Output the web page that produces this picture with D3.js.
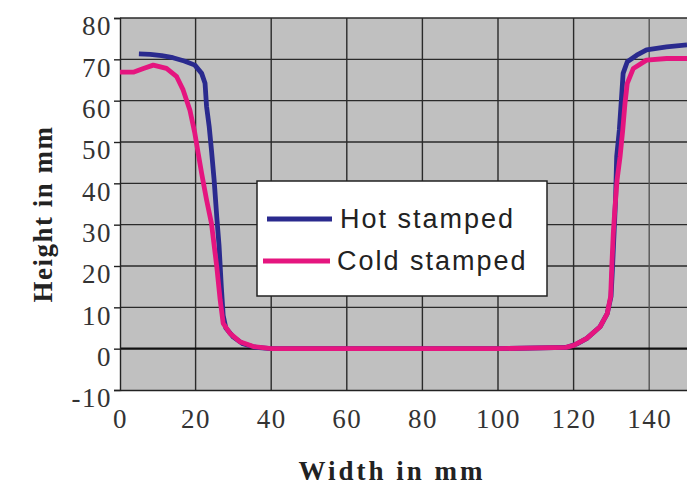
<!DOCTYPE html>
<html>
<head>
<meta charset="utf-8">
<script src="https://cdn.jsdelivr.net/npm/d3@7"></script>
<style>
  html, body { margin: 0; padding: 0; background: #fff; }
  svg { display: block; }
</style>
</head>
<body>
<svg id="chart" width="687" height="487"></svg>
<script>
// Profile of the stamped part: height across the width
const hotX  = [5, 8, 11, 14, 17, 19.8, 21.6, 22.5, 22.9, 23.6, 24.2, 24.9, 25.6, 26.2, 26.8, 27.3, 28, 30, 32.5, 36, 40, 60, 80, 100, 118, 121, 123.5, 127, 128.9, 129.9, 130.3, 130.7, 131.1, 131.4, 132.1, 132.7, 133.1, 134.2, 136.7, 139.3, 144.6, 150];
const hotY  = [71.3, 71.2, 70.9, 70.4, 69.6, 68.6, 66.6, 64.2, 58.6, 53.7, 48, 40.8, 31.9, 25, 15, 8, 5, 2.8, 1.2, 0.3, 0, 0, 0, 0, 0.3, 1.2, 2.5, 5.3, 8.5, 12.6, 19.8, 27.9, 36, 46.5, 52.9, 61, 66.6, 69.4, 71, 72.3, 73, 73.5];
const coldX = [0, 3.5, 6.2, 8.8, 12.3, 15, 16.7, 18.5, 19.8, 20.7, 21.6, 22.9, 24.2, 25.6, 26.5, 27.3, 29.1, 31.7, 35.3, 40, 60, 80, 100, 118, 120, 123.5, 127, 128.9, 129.8, 130.1, 130.5, 130.9, 131.5, 132.3, 133, 133.6, 134.2, 135.8, 139.3, 144.6, 150];
const coldY = [66.9, 66.9, 67.8, 68.6, 67.8, 65.8, 62.6, 57.7, 52.1, 47.2, 42.4, 36, 30.3, 19.8, 11.8, 6.1, 3.7, 1.7, 0.5, 0, 0, 0, 0, 0.3, 0.8, 2.5, 5.3, 8.5, 12.6, 19.8, 27.9, 33.5, 40.8, 46.5, 52.9, 59.4, 64.2, 67.8, 69.8, 70.2, 70.2];

const xTicks = [0, 20, 40, 60, 80, 100, 120, 140];
const yTicks = [-10, 0, 10, 20, 30, 40, 50, 60, 70, 80];
const seriesNames = ["Hot stamped", "Cold stamped"];
const seriesColors = ["#2a2a8e", "#e5157f"];

const svg = d3.select("#chart");
const plotL = 120, plotR = 687, plotT = 18, plotB = 390;

const x = d3.scaleLinear().domain([0, 150]).range([plotL, plotR]);
const y = d3.scaleLinear().domain([-10, 80]).range([plotB, plotT]);

// plot background
svg.append("rect")
  .attr("x", plotL).attr("y", plotT)
  .attr("width", plotR - plotL).attr("height", plotB - plotT)
  .attr("fill", "#c0c0c0");

// grid
const grid = svg.append("g");
grid.selectAll("line.h").data(yTicks.filter(d => d !== 0 && d !== -10)).join("line")
  .attr("x1", plotL).attr("x2", plotR)
  .attr("y1", d => y(d)).attr("y2", d => y(d))
  .attr("stroke", "#2a2a2a").attr("stroke-width", 1.4);
grid.selectAll("line.v").data(xTicks.filter(d => d !== 0)).join("line")
  .attr("x1", d => x(d)).attr("x2", d => x(d))
  .attr("y1", plotT).attr("y2", plotB)
  .attr("stroke", d => d === 140 ? "#555" : "#2a2a2a").attr("stroke-width", 1.4);

// zero line
svg.append("line")
  .attr("x1", plotL).attr("x2", plotR)
  .attr("y1", y(0)).attr("y2", y(0))
  .attr("stroke", "#111").attr("stroke-width", 2.4);

// y axis
const yAxis = d3.axisLeft(y).tickValues(yTicks).tickSize(6).tickFormat(d => d === -10 ? "-10" : String(d));
const ya = svg.append("g").attr("transform", `translate(${plotL},0)`).call(yAxis);
ya.select(".domain").attr("stroke", "#222").attr("stroke-width", 1.4);
ya.selectAll(".tick line").attr("stroke", "#222").attr("stroke-width", 1.4);
ya.selectAll(".tick text")
  .attr("x", -8).attr("dy", "0.62em")
  .attr("font-family", "'Liberation Serif', 'Times New Roman', serif")
  .attr("font-size", 27).attr("letter-spacing", 1.5)
  .attr("fill", "#333");

// x axis
const xAxis = d3.axisBottom(x).tickValues(xTicks).tickSize(0);
const xa = svg.append("g").attr("transform", `translate(0,${plotB})`).call(xAxis);
xa.select(".domain").attr("stroke", "#222").attr("stroke-width", 1.6);
xa.selectAll(".tick text")
  .attr("y", 38).attr("dy", 0)
  .attr("font-family", "'Liberation Serif', 'Times New Roman', serif")
  .attr("font-size", 27).attr("letter-spacing", 1.5)
  .attr("fill", "#333");

// series
const line = d3.line().x(d => x(d[0])).y(d => y(d[1]));
const hot = hotX.map((v, i) => [v, hotY[i]]);
const cold = coldX.map((v, i) => [v, coldY[i]]);
svg.append("path").datum(hot)
  .attr("d", line).attr("fill", "none")
  .attr("stroke", seriesColors[0]).attr("stroke-width", 4.8)
  .attr("stroke-linejoin", "round");
svg.append("path").datum(cold)
  .attr("d", line).attr("fill", "none")
  .attr("stroke", seriesColors[1]).attr("stroke-width", 4.8)
  .attr("stroke-linejoin", "round");

// axis titles
svg.append("text")
  .attr("x", 392).attr("y", 480)
  .attr("text-anchor", "middle")
  .attr("font-family", "'Liberation Serif', 'Times New Roman', serif")
  .attr("font-weight", "bold").attr("font-size", 27).attr("letter-spacing", 3)
  .attr("fill", "#222")
  .text("Width in mm");
svg.append("text")
  .attr("transform", "translate(52,214) rotate(-90)")
  .attr("text-anchor", "middle")
  .attr("font-family", "'Liberation Serif', 'Times New Roman', serif")
  .attr("font-weight", "bold").attr("font-size", 27).attr("letter-spacing", 1.5)
  .attr("fill", "#222")
  .text("Height in mm");

// legend
const lg = svg.append("g");
lg.append("rect")
  .attr("x", 257).attr("y", 181).attr("width", 290).attr("height", 115)
  .attr("fill", "#fff").attr("stroke", "#222").attr("stroke-width", 1.5);
const legendRows = [
  { name: seriesNames[0], color: seriesColors[0], x1: 267, x2: 332, ly: 219, tx: 340, ty: 228 },
  { name: seriesNames[1], color: seriesColors[1], x1: 263, x2: 330, ly: 261, tx: 337, ty: 270 }
];
legendRows.forEach(r => {
  lg.append("line").attr("x1", r.x1).attr("x2", r.x2).attr("y1", r.ly).attr("y2", r.ly)
    .attr("stroke", r.color).attr("stroke-width", 5);
  lg.append("text").attr("x", r.tx).attr("y", r.ty)
    .attr("font-family", "'Liberation Sans', Arial, sans-serif")
    .attr("font-size", 27).attr("letter-spacing", 2)
    .attr("fill", "#222").text(r.name);
});
</script>
</body>
</html>
